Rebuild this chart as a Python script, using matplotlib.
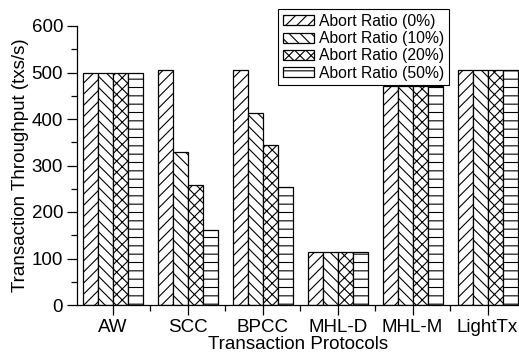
import numpy as np
import matplotlib
matplotlib.use("Agg")
import matplotlib.pyplot as plt
from matplotlib.ticker import MultipleLocator, FixedLocator

plt.rcParams['font.family'] = ['Liberation Sans', 'DejaVu Sans']
plt.rcParams['hatch.linewidth'] = 0.8

# protocols on the x axis
protocols = ["AW", "SCC", "BPCC", "MHL-D", "MHL-M", "LightTx"]
# throughput (txs/s) for each abort ratio
abort_0 = [498, 505, 505, 113, 470, 505]
abort_10 = [498, 330, 412, 113, 470, 505]
abort_20 = [498, 258, 345, 113, 470, 505]
abort_50 = [498, 162, 253, 113, 470, 505]
series_labels = ["Abort Ratio (0%)", "Abort Ratio (10%)", "Abort Ratio (20%)", "Abort Ratio (50%)"]
hatches = ["///", "\\\\\\", "xxx", "--"]

fig = plt.figure(figsize=(5.19, 3.58), dpi=100, facecolor='w')
ax = fig.add_axes([77/519, 53/358, 442/519, 279/358])

x = np.arange(len(protocols))
width = 0.2
all_series = [abort_0, abort_10, abort_20, abort_50]
for i, vals in enumerate(all_series):
    ax.bar(x + (i - 1.5) * width, vals, width, color='white', edgecolor='black',
           linewidth=0.9, hatch=hatches[i], label=series_labels[i])

ax.set_xlim(-0.48, 5.42)
ax.set_ylim(0, 600)
ax.set_xticks(x)
ax.set_xticklabels(protocols, fontsize=13.5)
ax.xaxis.set_minor_locator(FixedLocator(x[:-1] + 0.5))
ax.yaxis.set_major_locator(MultipleLocator(100))
ax.yaxis.set_minor_locator(MultipleLocator(50))
ax.tick_params(axis='y', labelsize=13.5, pad=3)
ax.tick_params(axis='x', pad=3)
ax.tick_params(which='major', direction='out', length=7, width=0.9)
ax.tick_params(which='minor', direction='out', length=4, width=0.9)
for s in ['top', 'right']:
    ax.spines[s].set_visible(False)
for s in ['left', 'bottom']:
    ax.spines[s].set_linewidth(0.9)

ax.set_xlabel("Transaction Protocols", fontsize=13.5, labelpad=0)
ax.set_ylabel("Transaction Throughput (txs/s)", fontsize=13.5, labelpad=2)

leg = ax.legend(loc='upper left', bbox_to_anchor=(278/519, 1 - 9/358),
                bbox_transform=fig.transFigure, borderaxespad=0, fontsize=11.3,
                fancybox=False, edgecolor='black', framealpha=1,
                handlelength=2.0, handleheight=0.6, handletextpad=0.3,
                labelspacing=0.15, borderpad=0.3)
leg.get_frame().set_linewidth(0.8)

fig.savefig("out.png", dpi=100)
